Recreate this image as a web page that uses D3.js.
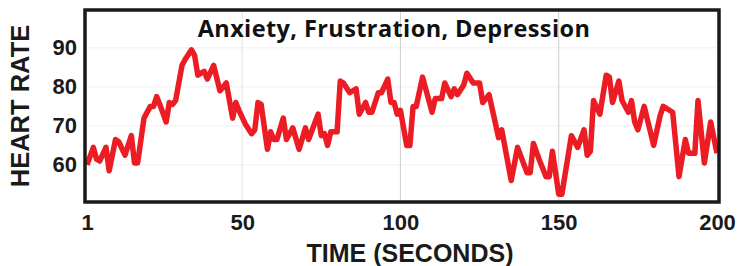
<!DOCTYPE html>
<html>
<head>
<meta charset="utf-8">
<script src="https://cdn.jsdelivr.net/npm/d3@7"></script>
<style>
  body { margin: 0; background: #fff; }
</style>
</head>
<body>
<div id="datavis"></div>
<script>

// data
const seconds = [1, 3, 4, 5, 7, 8, 10, 11, 13, 15, 16, 17, 19, 21, 22, 23, 24, 26, 27, 28, 29, 31, 32, 34, 35, 36, 38, 39, 41,
  43, 45, 47, 48, 49, 51, 53, 54, 55, 56, 58, 59, 60, 61, 63, 64, 66, 68, 70, 71, 74, 75, 76, 77, 78, 80,
  81, 82, 84, 86, 87, 89, 90, 91, 93, 94, 96, 97, 98, 99, 100, 102, 103, 104, 105, 107, 110, 111, 113, 114, 116, 117, 118, 120,
  121, 123, 125, 126, 128, 131, 132, 135, 137, 140, 141, 142, 144, 146, 147, 148, 150, 151, 154, 156, 158, 159, 160,
  161, 163, 165, 166, 167, 169, 170, 172, 173, 174, 175, 177, 180, 182, 183, 186, 188, 190, 191, 193, 194, 196, 198, 200];

const heartRate = [60, 64.5, 61.5, 61, 64.5, 58.5, 66.5, 66, 62.5, 67.5, 60.5, 60.5, 72, 75, 75, 77.5, 75.5, 71, 76, 75.5, 76.5, 85.5, 87, 89.5, 88, 83, 84, 82, 85.5,
  79, 81, 72, 76, 74, 70.5, 68, 69, 76, 75.5, 64, 68.5, 66.5, 66.5, 72, 66.5, 69.5, 64, 69.5, 66.5, 73, 67.5, 68, 65, 68.5, 68.5,
  81.5, 81, 78.5, 79.5, 73, 76, 73.5, 73.5, 78.5, 78.5, 82, 76, 76, 73, 74, 65, 65, 75, 75, 82.5, 73.5, 77, 77, 81, 77.5, 79.5, 78, 80.5,
  83.5, 81, 81, 76, 78, 67, 69, 56, 64.5, 58, 58, 65.5, 61, 57, 57, 63.5, 52.5, 52.5, 67.5, 64.5, 69, 62.5, 63.5,
  76.5, 73, 83, 82.5, 76, 81.5, 76.5, 73.5, 76.5, 71, 69, 75, 65, 72.5, 75, 73.5, 57, 66.5, 63, 63, 76.5, 60.5, 71, 63];

const xTicks = [1, 50, 100, 150, 200];
const yTicks = [60, 70, 80, 90];
const gridX = [50, 100, 150];

const TITLE = "Anxiety, Frustration, Depression";

const MARGIN = {top: 10, right: 23, bottom: 64, left: 85},
    WIDTH = 742 - MARGIN.left - MARGIN.right,
    HEIGHT = 266 - MARGIN.top - MARGIN.bottom;

const data = seconds.map((s, i) => ({t: s, hr: heartRate[i]}));

const svg = d3.select("#datavis")
  .append("svg")
    .attr("width", WIDTH + MARGIN.left + MARGIN.right)
    .attr("height", HEIGHT + MARGIN.top + MARGIN.bottom)
  .append("g")
    .attr("transform", "translate(" + MARGIN.left + "," + MARGIN.top + ")");

const x = d3.scaleLinear()
    .domain([1, 200])
    .range([2, WIDTH - 2]);

const y = d3.scaleLinear()
    .domain([50.5, 99.7])
    .range([HEIGHT, 0]);

// faint grid
svg.selectAll(".hgrid")
  .data(yTicks)
  .join("line")
    .attr("class", "hgrid")
    .attr("x1", 0).attr("x2", WIDTH)
    .attr("y1", d => y(d)).attr("y2", d => y(d))
    .attr("stroke", "#efefef")
    .attr("stroke-width", 1);

svg.selectAll(".vgrid")
  .data(gridX)
  .join("line")
    .attr("class", "vgrid")
    .attr("x1", d => x(d)).attr("x2", d => x(d))
    .attr("y1", 0).attr("y2", HEIGHT)
    .attr("stroke", (d) => d == 50 ? "#e2e2e2" : "#cfcfcf")
    .attr("stroke-width", 1);

// the trace
const line = d3.line()
    .x(d => x(d.t))
    .y(d => y(d.hr));

svg.append("path")
    .datum(data)
    .attr("fill", "none")
    .attr("stroke", "#ec1c24")
    .attr("stroke-width", 5.5)
    .attr("stroke-linejoin", "round")
    .attr("d", line);

// frame
svg.append("rect")
    .attr("x", 0)
    .attr("y", 0)
    .attr("width", WIDTH)
    .attr("height", HEIGHT)
    .attr("fill", "none")
    .attr("stroke", "#1a1a1a")
    .attr("stroke-width", 3.5);

// axes
const xAxis = svg.append("g")
    .attr("transform", "translate(0," + HEIGHT + ")")
    .call(d3.axisBottom(x).tickValues(xTicks).tickSize(0).tickPadding(12));

const yAxis = svg.append("g")
    .call(d3.axisLeft(y).tickValues(yTicks).tickSize(0).tickPadding(8));

[xAxis, yAxis].forEach(a => {
  a.select(".domain").remove();
  a.selectAll("text")
    .attr("fill", "#1a1a1a")
    .style("font-family", "'Liberation Sans', Arial, sans-serif")
    .style("font-weight", "bold")
    .style("font-size", "22px");
});

// title
svg.append("text")
    .attr("x", 394 - MARGIN.left)
    .attr("y", 27)
    .attr("text-anchor", "middle")
    .style("font-family", "'Open Sans', sans-serif")
    .style("font-weight", "700")
    .style("font-size", "23.5px")
    .style("letter-spacing", "0.4px")
    .attr("fill", "#111")
    .text(TITLE);

// axis titles
svg.append("text")
    .attr("x", 410 - MARGIN.left)
    .attr("y", 262 - MARGIN.top)
    .attr("text-anchor", "middle")
    .style("font-family", "'Liberation Sans', Arial, sans-serif")
    .style("font-weight", "bold")
    .style("font-size", "25px")
    .attr("fill", "#1a1a1a")
    .text("TIME (SECONDS)");

svg.append("text")
    .attr("transform", "translate(" + (29 - MARGIN.left) + "," + (106 - MARGIN.top) + ") rotate(-90)")
    .attr("text-anchor", "middle")
    .style("font-family", "'Liberation Sans', Arial, sans-serif")
    .style("font-weight", "bold")
    .style("font-size", "25.5px")
    .attr("fill", "#1a1a1a")
    .text("HEART RATE");

</script>
</body>
</html>
